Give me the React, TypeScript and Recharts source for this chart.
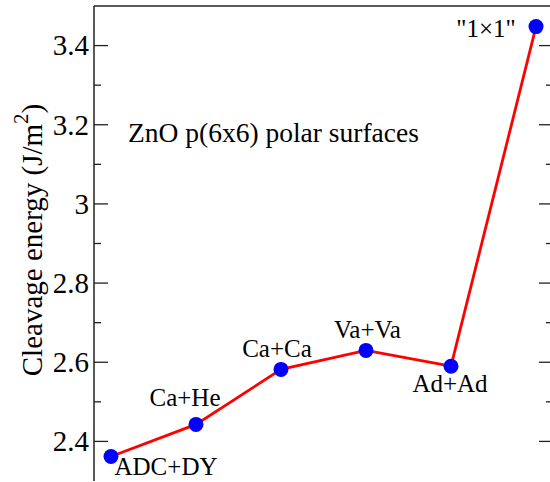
import { LineChart, Line, XAxis, YAxis, LabelList } from 'recharts';

const categories = ['ADC+DY', 'Ca+He', 'Ca+Ca', 'Va+Va', 'Ad+Ad', '"1×1"'];
const positions = [1, 2, 3, 4, 5, 6];
const energies = [2.362, 2.443, 2.582, 2.63, 2.59, 3.448];

const majorTicks = [2.4, 2.6, 2.8, 3, 3.2, 3.4];
const minorTicks = [2.5, 2.7, 2.9, 3.1, 3.3];

// where each point label sits relative to its dot (dx, baseline dy)
const labelOffsets: Record<string, [number, number]> = {
  'ADC+DY': [55, 19],
  'Ca+He': [-11, -18],
  'Ca+Ca': [-4, -12],
  'Va+Va': [1.5, -12],
  'Ad+Ad': [-1, 26],
  '"1×1"': [-50, 10],
};

const FONT = 'Liberation Serif, Tinos, serif';
const AXIS = '#222';

const data = categories.map((name, i) => ({ name, x: positions[i], y: energies[i] }));
const allTicks = [...majorTicks, ...minorTicks].sort((a, b) => a - b);

// ticks point inward, majors longer than minors
const LeftTick = (props: any) => {
  const { x, y, payload } = props;
  const major = majorTicks.includes(payload.value);
  return (
    <g>
      <path d={`M${x},${y}h${major ? 14 : 7}`} stroke={AXIS} strokeWidth={1.3} fill="none" />
      {major && (
        <text x={x - 5} y={y} dy="0.34em" textAnchor="end" style={{ fontFamily: FONT }} fontSize={29} fill="#000">
          {String(payload.value)}
        </text>
      )}
    </g>
  );
};

const RightTick = (props: any) => {
  const { x, y, payload } = props;
  const major = majorTicks.includes(payload.value);
  return <path d={`M${x},${y}h${major ? -14 : -7}`} stroke={AXIS} strokeWidth={1.3} fill="none" />;
};

const PointLabel = (props: any) => {
  const { x, y, value } = props;
  const [dx, dy] = labelOffsets[value] || [0, 0];
  return (
    <text x={x + dx} y={y + dy} textAnchor="middle" style={{ fontFamily: FONT }} fontSize={25} fill="#000">
      {value}
    </text>
  );
};

export default function App() {
  return (
    <div style={{ position: 'fixed', left: 0, top: 0, width: 550, height: 482, overflow: 'hidden', background: '#fff' }}>
      <LineChart width={556} height={482} data={data} margin={{ top: 5, right: 2, bottom: 1, left: 0 }}>
        <XAxis dataKey="x" type="number" domain={[0.8, 6.2]} height={0} tick={false} tickLine={false}
          axisLine={{ stroke: AXIS, strokeWidth: 1.5 }} />
        <XAxis xAxisId="top" orientation="top" dataKey="x" type="number" domain={[0.8, 6.2]} height={1}
          tick={false} tickLine={false} axisLine={{ stroke: AXIS, strokeWidth: 1.5 }} />
        <YAxis type="number" domain={[2.3, 3.5]} allowDataOverflow width={94} ticks={allTicks}
          interval={0} tickSize={0} tickMargin={0} tickLine={false} tick={<LeftTick />}
          axisLine={{ stroke: AXIS, strokeWidth: 1.5 }} />
        <YAxis yAxisId="right" orientation="right" type="number" domain={[2.3, 3.5]} allowDataOverflow
          width={1} ticks={allTicks} interval={0} tickSize={0} tickMargin={0} tickLine={false}
          tick={<RightTick />} axisLine={{ stroke: AXIS, strokeWidth: 1.5 }} />
        {/* invisible series so the top and right frame axes get drawn */}
        <Line yAxisId="right" xAxisId="top" dataKey="y" stroke="none" dot={false} activeDot={false}
          isAnimationActive={false} legendType="none" />
        <Line dataKey="y" type="linear" stroke="#ff0000" strokeWidth={2.8} isAnimationActive={false}
          dot={{ r: 7.5, fill: '#0000ff', stroke: 'none' }} activeDot={false}>
          <LabelList dataKey="name" content={<PointLabel />} />
        </Line>
      </LineChart>
      <svg width={550} height={482} style={{ position: 'absolute', left: 0, top: 0, pointerEvents: 'none' }}>
        <text x={128} y={142} style={{ fontFamily: FONT }} fontSize={27.5} fill="#000">
          ZnO p(6x6) polar surfaces
        </text>
        <text transform="translate(42,240) rotate(-90)" textAnchor="middle" style={{ fontFamily: FONT }} fontSize={29} fill="#000">
          Cleavage energy (J/m<tspan dy={-14} fontSize={21}>2</tspan><tspan dy={14}>)</tspan>
        </text>
      </svg>
    </div>
  );
}
